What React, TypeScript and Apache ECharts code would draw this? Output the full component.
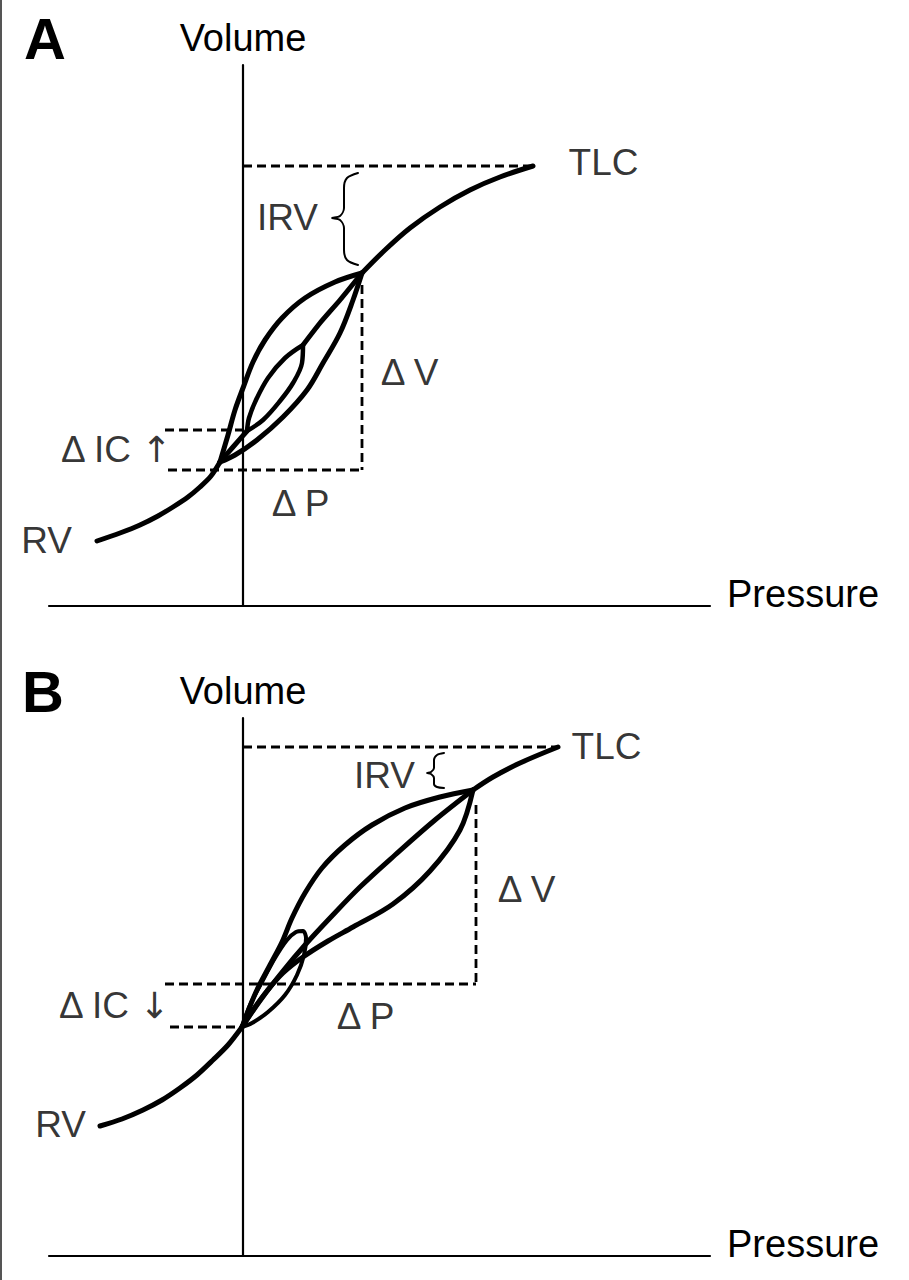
import React, { useEffect, useRef } from "react";
import * as echarts from "echarts";

const W = 909;
const H = 1280;
const FONT = '"Liberation Sans", Arial, Helvetica, sans-serif';
const INK = "#000000";

// ---------- Panel A (arbitrary pressure / volume units) ----------
const aXRange = [-19.4, 46.7];
const aYRange = [0, 54.1];
const aMainLower = [[-14.6, 6.5], [-12.3, 7.3], [-10.3, 8.1], [-8.5, 9.0], [-7.0, 9.9], [-5.5, 10.9], [-4.3, 11.9], [-3.2, 13.0], [-2.3, 14.4]];
const aMainUpper = [[11.9, 33.3], [14.2, 35.6], [16.7, 37.8], [19.7, 39.9], [22.7, 41.6], [25.7, 42.9], [29.0, 44.0]];
const aOuterLeft = [[-2.3, 14.4], [-1.5, 17.1], [-0.8, 19.6], [0.0, 21.8], [1.0, 24.4], [2.2, 26.6], [3.9, 28.8], [6.2, 30.8], [9.2, 32.4], [11.9, 33.3]];
const aOuterRight = [[11.9, 33.3], [11.0, 30.6], [9.7, 27.3], [8.0, 24.3], [6.4, 21.6], [4.0, 18.9], [1.4, 16.6], [-0.8, 15.1], [-2.3, 14.4]];
const aMiddleUpper = [[11.9, 33.3], [9.7, 30.6], [7.7, 28.3], [6.0, 26.1]];
const aInnerLoop = [[6.0, 26.1], [4.2, 24.8], [2.5, 22.8], [1.3, 20.6], [0.6, 18.8], [0.4, 17.5], [2.0, 18.6], [3.7, 20.5], [5.0, 22.3], [5.9, 24.3], [6.0, 26.1]];
const aMiddleLower = [[0.4, 17.5], [-1.0, 15.9], [-2.3, 14.4]];
const aTlcLine = [[0, 44.0], [29.0, 44.0]];
const aDvLine = [[11.9, 32.1], [11.9, 13.6]];
const aDpLine = [[-7.5, 13.6], [11.9, 13.6]];
const aIcLine = [[-7.8, 17.6], [0, 17.6]];
const aBrace = [[11.5, 43.3], [10.4, 42.8], [10.1, 41.8], [10.1, 39.8], [9.7, 39.0], [8.9, 38.8], [9.7, 38.6], [10.1, 37.8], [10.1, 35.6], [10.4, 34.6], [11.5, 34.1]];
const aLabels = [
  { text: "TLC", x: 36.1, y: 44.3, align: "center" },
  { text: "IRV", x: 4.5, y: 38.8, align: "center" },
  { text: "Δ V", x: 16.7, y: 23.3, align: "center" },
  { text: "Δ P", x: 5.8, y: 10.2, align: "center" },
  { text: "Δ IC ↑", x: -7.1, y: 15.6, align: "right" },
  { text: "RV", x: -19.6, y: 6.5, align: "center" },
];

// ---------- Panel B ----------
const bXRange = [-19.4, 46.7];
const bYRange = [0, 53.8];
const bMainLower = [[-0.1, 22.9], [-1.5, 21.1], [-3.0, 19.6], [-4.6, 18.1], [-6.3, 16.8], [-8.1, 15.6], [-10.0, 14.6], [-12.1, 13.7], [-14.3, 13.0]];
const bMainUpper = [[23.0, 46.6], [25.0, 47.9], [27.7, 49.3], [31.5, 50.9]];
const bOuterLeft = [[-0.1, 22.9], [1.3, 26.4], [2.7, 29.1], [3.9, 31.4], [4.9, 33.8], [6.2, 36.3], [7.9, 38.8], [10.2, 41.1], [12.9, 43.1], [16.2, 44.8], [19.7, 45.9], [23.0, 46.6]];
const bMiddle = [[-0.1, 22.9], [1.9, 25.8], [4.0, 28.5], [6.2, 31.1], [8.7, 33.8], [11.7, 36.9], [15.2, 40.1], [19.2, 43.6], [23.0, 46.6]];
const bOuterRight = [[-0.1, 22.9], [1.0, 24.6], [2.4, 26.5], [4.0, 28.3], [6.0, 29.9], [8.5, 31.5], [11.0, 32.9], [15.0, 35.2], [18.7, 38.5], [21.7, 42.6], [23.0, 46.6]];
const bSmallLoop = [[-0.1, 22.9], [0.7, 25.1], [1.9, 27.4], [3.2, 29.8], [4.4, 31.6], [5.3, 32.4], [6.0, 32.5], [6.3, 31.8], [6.1, 30.1], [5.4, 28.1], [4.2, 26.1], [2.5, 24.4], [0.9, 23.3], [-0.1, 22.9]];
const bTlcLine = [[0, 50.9], [31.5, 50.9]];
const bDvLine = [[23.3, 45.1], [23.3, 27.2]];
const bDpLine = [[-7.8, 27.2], [23.3, 27.2]];
const bIcLine = [[-7.3, 22.9], [-0.5, 22.9]];
const bBrace = [[20.1, 50.3], [19.4, 50.1], [19.1, 49.6], [19.1, 48.8], [18.8, 48.4], [18.4, 48.3], [18.8, 48.2], [19.1, 47.8], [19.1, 47.2], [19.4, 46.9], [20.1, 46.8]];
const bLabels = [
  { text: "TLC", x: 36.4, y: 50.9, align: "center" },
  { text: "IRV", x: 14.2, y: 48.0, align: "center" },
  { text: "Δ V", x: 28.4, y: 36.6, align: "center" },
  { text: "Δ P", x: 12.3, y: 23.9, align: "center" },
  { text: "Δ IC ↓", x: -7.3, y: 25.0, align: "right" },
  { text: "RV", x: -18.2, y: 13.1, align: "center" },
];

const panelLetters = ["A", "B"];
const axisNames = { x: "Pressure", y: "Volume" };

function solid(data: number[][], gi: number, width = 5, smooth = 0.35) {
  return {
    type: "line",
    xAxisIndex: gi,
    yAxisIndex: gi,
    data,
    smooth,
    symbol: "none",
    silent: true,
    clip: false,
    z: 4,
    lineStyle: { color: INK, width, cap: "round", join: "round" },
  };
}

function dashed(data: number[][], gi: number) {
  return {
    type: "line",
    xAxisIndex: gi,
    yAxisIndex: gi,
    data,
    smooth: false,
    symbol: "none",
    silent: true,
    clip: false,
    z: 3,
    lineStyle: { color: INK, width: 2.8, type: [9, 5] },
  };
}

function labels(list: { text: string; x: number; y: number; align: string }[], gi: number) {
  return {
    type: "scatter",
    xAxisIndex: gi,
    yAxisIndex: gi,
    data: list.map((l) => ({ name: l.text, value: [l.x, l.y], label: { align: l.align } })),
    symbolSize: 1,
    itemStyle: { color: "rgba(255,255,255,0)" },
    clip: false,
    silent: true,
    z: 5,
    label: {
      show: true,
      position: [0, 0],
      verticalAlign: "middle",
      formatter: (p: any) => String(p.name).replace(/([↑↓])/g, "{ar|$1}"),
      fontSize: 37,
      color: INK,
      fontFamily: FONT,
      rich: {
        ar: { fontSize: 36, color: INK, fontFamily: '"DejaVu Sans", sans-serif' },
      },
    },
  };
}

function xAxis(gi: number, range: number[]) {
  return {
    type: "value",
    gridIndex: gi,
    min: range[0],
    max: range[1],
    name: "{p|" + axisNames.x + "}",
    nameLocation: "end",
    nameGap: 17,
    nameTextStyle: {
      align: "left",
      verticalAlign: "middle",
      rich: {
        p: { fontSize: 38, color: INK, fontFamily: FONT, padding: [0, 0, 24, 0] },
      },
    },
    axisLine: { show: true, onZero: false, lineStyle: { color: INK, width: 2.2 } },
    axisTick: { show: false },
    axisLabel: { show: false },
    splitLine: { show: false },
  };
}

function yAxis(gi: number, range: number[]) {
  return {
    type: "value",
    gridIndex: gi,
    min: range[0],
    max: range[1],
    name: axisNames.y,
    nameLocation: "end",
    nameGap: 8,
    nameTextStyle: {
      fontSize: 38,
      color: INK,
      fontFamily: FONT,
      align: "center",
      verticalAlign: "bottom",
    },
    axisLine: { show: true, onZero: true, lineStyle: { color: INK, width: 2.2 } },
    axisTick: { show: false },
    axisLabel: { show: false },
    splitLine: { show: false },
  };
}

export default function App() {
  const ref = useRef<HTMLDivElement>(null);

  useEffect(() => {
    document.body.style.margin = "0";
    if (!ref.current) return;
    const chart = echarts.init(ref.current, undefined, { renderer: "svg" });
    chart.setOption({
      animation: false,
      backgroundColor: "#ffffff",
      textStyle: { fontFamily: FONT },
      grid: [
        { left: 49, top: 65, width: 661, height: 541, containLabel: false },
        { left: 49, top: 718, width: 661, height: 538, containLabel: false },
      ],
      xAxis: [xAxis(0, aXRange), xAxis(1, bXRange)],
      yAxis: [yAxis(0, aYRange), yAxis(1, bYRange)],
      graphic: [
        { type: "rect", shape: { x: 0, y: 0, width: 2, height: H }, style: { fill: "#555" }, silent: true },
        {
          type: "text",
          style: { x: 24, y: 38, text: panelLetters[0], fontSize: 58, fontWeight: "bold", fontFamily: FONT, fill: INK, verticalAlign: "middle" },
          silent: true,
        },
        {
          type: "text",
          style: { x: 22, y: 691, text: panelLetters[1], fontSize: 58, fontWeight: "bold", fontFamily: FONT, fill: INK, verticalAlign: "middle" },
          silent: true,
        },
      ],
      series: [
        // Panel A
        dashed(aTlcLine, 0),
        dashed(aDvLine, 0),
        dashed(aDpLine, 0),
        dashed(aIcLine, 0),
        solid(aMainLower, 0, 5, 0.3),
        solid(aMainUpper, 0),
        solid(aOuterLeft, 0),
        solid(aOuterRight, 0),
        solid(aMiddleUpper, 0, 5, 0.2),
        solid(aInnerLoop, 0, 4.5, 0.35),
        solid(aMiddleLower, 0, 5, 0.2),
        solid(aBrace, 0, 2, 0.3),
        labels(aLabels, 0),
        // Panel B
        dashed(bTlcLine, 1),
        dashed(bDvLine, 1),
        dashed(bDpLine, 1),
        dashed(bIcLine, 1),
        solid(bMainLower, 1, 5, 0.3),
        solid(bMainUpper, 1),
        solid(bOuterLeft, 1),
        solid(bMiddle, 1),
        solid(bOuterRight, 1),
        solid(bSmallLoop, 1, 4, 0.3),
        solid(bBrace, 1, 2, 0.3),
        labels(bLabels, 1),
      ],
    });
    return () => chart.dispose();
  }, []);

  return <div ref={ref} style={{ width: W, height: H }} />;
}
